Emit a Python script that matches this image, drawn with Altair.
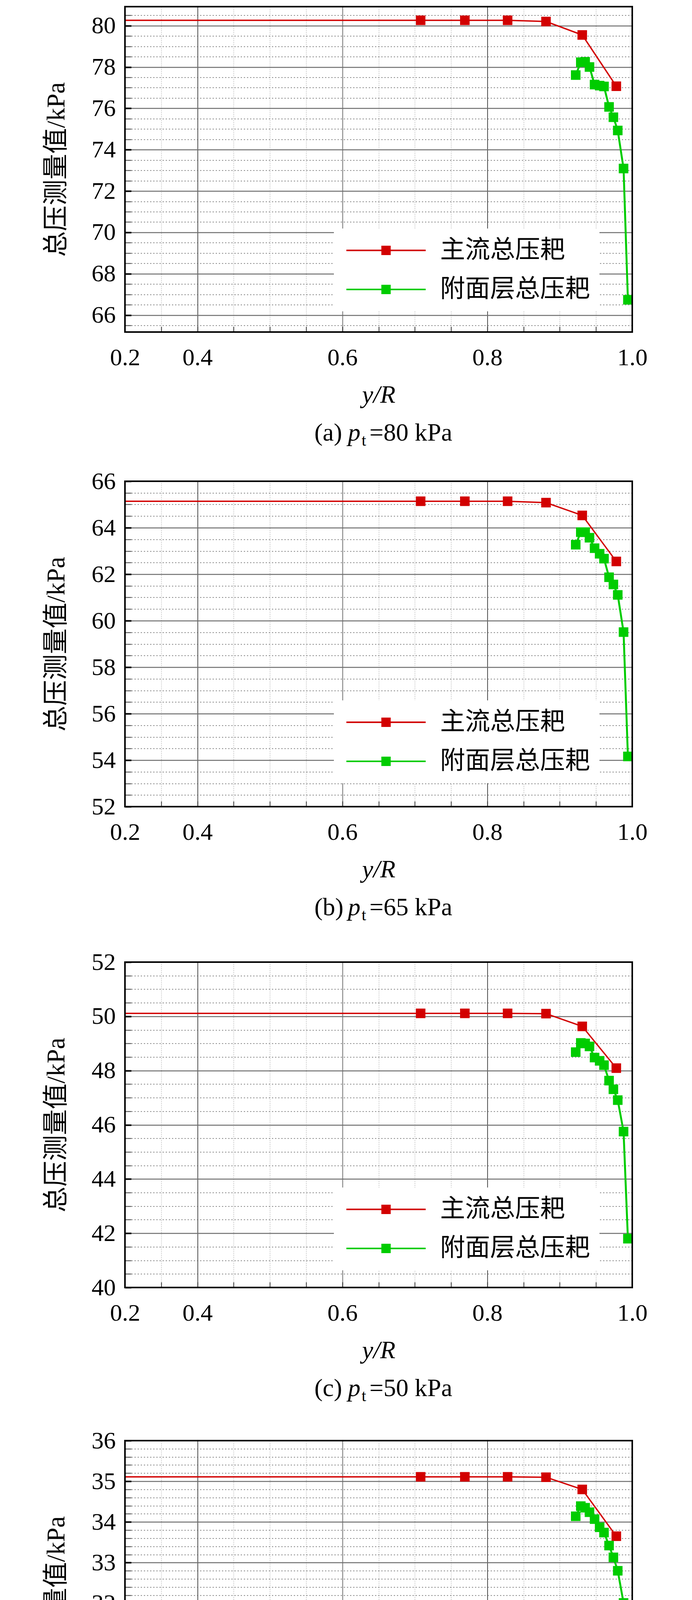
import math
import altair as alt
import pandas as pd

# ---------------- data ----------------
series_names = ["主流总压耙", "附面层总压耙"]
series_colors = ["#d20000", "#00cc00"]
series_widths = [3.5, 5.0]

main_x = [0.0, 0.708, 0.769, 0.828, 0.881, 0.931, 0.978]
bl_x = [0.922, 0.929, 0.935, 0.941, 0.948, 0.955, 0.961, 0.968, 0.974, 0.980, 0.988, 0.994]

main_a = [80.26, 80.26, 80.26, 80.26, 80.20, 79.55, 77.07]
bl_a = [77.61, 78.23, 78.25, 78.00, 77.15, 77.10, 77.06, 76.07, 75.57, 74.93, 73.09, 66.74]
main_b = [65.14, 65.14, 65.14, 65.14, 65.08, 64.53, 62.55]
bl_b = [63.27, 63.81, 63.81, 63.57, 63.12, 62.88, 62.67, 61.87, 61.56, 61.11, 59.51, 54.16]
main_c = [50.11, 50.11, 50.11, 50.11, 50.10, 49.63, 48.09]
bl_c = [48.68, 49.02, 49.00, 48.89, 48.48, 48.36, 48.20, 47.63, 47.31, 46.91, 45.75, 41.80]
main_d = [35.11, 35.11, 35.11, 35.11, 35.10, 34.80, 33.65]
bl_d = [34.14, 34.39, 34.35, 34.24, 34.07, 33.87, 33.74, 33.42, 33.13, 32.80, 32.01, 29.24]

panel_letters = ["a", "b", "c", "d"]
panel_pt = [80, 65, 50, 35]
main_series = [main_a, main_b, main_c, main_d]
bl_series = [bl_a, bl_b, bl_c, bl_d]
y_domains = [[65.18, 80.92], [52, 66], [40, 52], [28, 36]]
y_major_step = [2, 2, 2, 1]
y_minor_step = [0.5, 0.5, 0.5, 0.2]

x_domain = [0.3, 1.0]
x_minor_step = 0.05
x_tick_values = [0.3, 0.4, 0.6, 0.8, 1.0]
x_tick_labels = ["0.2", "0.4", "0.6", "0.8", "1.0"]

y_title = "总压测量值/kPa"
x_title = "y/R"

# ---------------- layout ----------------
W, H = 1299, 833
legend_y = [568, 561, 577, 588]
top_ext = [2, 50, 50, 50]
bottom_ext = [1164.4, 1180.6, 1174.7, 1110]

SERIF = "Liberation Serif"
MIXED = "Liberation Serif, Noto Sans CJK SC"
# legend symbol: a line with a square in its middle (units of 32 px)
SYMBOL_PATH = "M-3.172,-0.0625H3.172V0.0625H-3.172Z M-0.375,-0.375H0.375V0.375H-0.375Z"


def frange(lo, hi, step):
    start = math.ceil(lo / step - 1e-9)
    out = []
    k = start
    while k * step <= hi + 1e-9:
        out.append(round(k * step, 3))
        k += 1
    return out


x_all = frange(x_domain[0], x_domain[1], x_minor_step)
x_label_expr = ""
for v, lab in zip(x_tick_values, x_tick_labels):
    x_label_expr += f"abs(datum.value-{v})<0.001?'{lab}':"
x_label_expr += "''"
x_major_test = " || ".join(f"abs(datum.value-{v})<0.001" for v in x_tick_values)
x_mid_test = "abs(datum.value-0.6)<0.001"

x_axis = alt.Axis(
    values=x_all,
    tickCount=500,
    labelExpr=x_label_expr,
    labelPadding=35,
    labelFlush=False,
    labelOverlap=False,
    title=x_title,
    titleFontStyle="italic",
    titleFont=SERIF,
    titleFontSize=64,
    titleBaseline="alphabetic",
    titleY=180,
    grid=True,
    ticks=False,
    gridColor={"condition": [{"test": x_mid_test, "value": "#8c8c8c"},
                             {"test": x_major_test, "value": "#111111"}],
               "value": "#a8a8a8"},
    gridWidth={"condition": [{"test": x_mid_test, "value": 2.5},
                             {"test": x_major_test, "value": 1.5}],
               "value": 1.5},
    gridDash={"condition": {"test": x_major_test, "value": []}, "value": [2, 3]},
)

# inner tick marks along the bottom edge
x_tick_axis = alt.Axis(
    orient="bottom", values=x_all, tickCount=500, offset=-14, ticks=True, tickSize=14,
    tickColor="#333333", tickWidth=2, labels=False, grid=False, domain=False, title=None,
)


def make_panel(i):
    lo, hi = y_domains[i]
    step = y_major_step[i]
    y_all = frange(lo, hi, y_minor_step[i])
    y_test = f"abs(datum.value/{step} - round(datum.value/{step})) < 0.001"
    y_axis = alt.Axis(
        orient="left",
        values=y_all,
        tickCount=500,
        labelExpr=f"({y_test}) ? format(datum.value, 'd') : ''",
        labelPadding=24,
        labelFlush=False,
        labelOverlap=False,
        title=y_title,
        titleFont=MIXED,
        titleFontSize=66,
        titleX=-176,
        titleY=H / 2,
        titleBaseline="middle",
        grid=True,
        ticks=False,
        gridColor={"condition": {"test": y_test, "value": "#6e6e6e"}, "value": "#555555"},
        gridWidth={"condition": {"test": y_test, "value": 2.5}, "value": 1.3},
        gridDash={"condition": {"test": y_test, "value": []}, "value": [3, 5]},
    )
    y_tick_axis = alt.Axis(
        orient="left", values=y_all, tickCount=500, offset=-16, ticks=True, tickSize=16,
        tickColor={"condition": {"test": y_test, "value": "#000000"}, "value": "#444444"},
        tickWidth={"condition": {"test": y_test, "value": 4}, "value": 2},
        labels=False, grid=False, domain=False, title=None,
    )

    df_main = pd.DataFrame({"x": main_x, "y": main_series[i], "s": series_names[0]})
    df_bl = pd.DataFrame({"x": bl_x, "y": bl_series[i], "s": series_names[1]})
    df_pts = pd.concat([df_main[df_main["x"] >= x_domain[0]], df_bl], ignore_index=True)

    xs = alt.Scale(domain=x_domain, nice=False, zero=False)
    ys = alt.Scale(domain=[lo, hi], nice=False, zero=False)

    tick_layer = alt.Chart(df_pts).mark_point(opacity=0).encode(
        x=alt.X("x:Q", scale=xs, axis=x_tick_axis),
        y=alt.Y("y:Q", scale=ys, axis=y_tick_axis),
    )
    line_main = alt.Chart(df_main).mark_line(
        clip=True, color=series_colors[0], strokeWidth=series_widths[0]
    ).encode(
        x=alt.X("x:Q", scale=xs, axis=x_axis),
        y=alt.Y("y:Q", scale=ys, axis=y_axis),
    )
    line_bl = alt.Chart(df_bl).mark_line(
        clip=True, color=series_colors[1], strokeWidth=series_widths[1]
    ).encode(
        x=alt.X("x:Q", scale=xs, axis=None),
        y=alt.Y("y:Q", scale=ys, axis=None),
    )

    legend = alt.Legend(
        orient="none", legendX=535, legendY=legend_y[i], title=None,
        symbolType=SYMBOL_PATH, symbolSize=4096, symbolStrokeWidth=0,
        rowPadding=36, padding=24, fillColor="white",
        labelFont="Noto Sans CJK SC", labelFontSize=64, labelLimit=2000,
        labelOffset=106.5, symbolOffset=77.5, labelColor="black", direction="vertical",
        symbolOpacity=1,
    )
    points = alt.Chart(df_pts).mark_point(filled=True, shape="square", size=600, opacity=1).encode(
        x=alt.X("x:Q", scale=xs, axis=None),
        y=alt.Y("y:Q", scale=ys, axis=None),
        fill=alt.Fill("s:N", scale=alt.Scale(domain=series_names, range=series_colors), legend=legend),
    )

    one = pd.DataFrame({"k": [0]})
    frame = alt.Chart(one).mark_rect(filled=False, stroke="black", strokeWidth=4).encode(
        x=alt.value(0), x2=alt.value(W), y=alt.value(0), y2=alt.value(H))
    bounds = alt.Chart(one).mark_rule(strokeOpacity=0).encode(
        x=alt.value(-312), y=alt.value(-top_ext[i]), y2=alt.value(bottom_ext[i]))

    cap_df = pd.DataFrame({"a": [f"({panel_letters[i]})"], "p": ["p"], "t": ["t"],
                           "r": [f"={panel_pt[i]} kPa"]})
    cy = H + 278
    cap1 = alt.Chart(cap_df).mark_text(font=SERIF, fontSize=64, align="left", baseline="alphabetic", color="black").encode(
        text="a:N", x=alt.value(485), y=alt.value(cy))
    cap2 = alt.Chart(cap_df).mark_text(font=SERIF, fontSize=64, fontStyle="italic", align="left", baseline="alphabetic", color="black").encode(
        text="p:N", x=alt.value(571), y=alt.value(cy))
    cap3 = alt.Chart(cap_df).mark_text(font=SERIF, fontSize=42, align="left", baseline="alphabetic", color="black").encode(
        text="t:N", x=alt.value(606), y=alt.value(cy + 13))
    cap4 = alt.Chart(cap_df).mark_text(font=SERIF, fontSize=64, align="left", baseline="alphabetic", color="black").encode(
        text="r:N", x=alt.value(626), y=alt.value(cy))

    return alt.layer(
        line_main, tick_layer, line_bl, points, frame, bounds, cap1, cap2, cap3, cap4
    ).resolve_axis(x="independent", y="independent").properties(width=W, height=H)


panels = [make_panel(i) for i in range(4)]

chart = alt.vconcat(*panels, spacing=0).resolve_scale(
    fill="independent"
).resolve_legend(fill="independent").properties(padding=0).configure_view(
    stroke=None
).configure_axis(
    labelFont=SERIF, labelFontSize=62, labelColor="black",
    titleColor="black", titleFontWeight="normal",
    domain=False,
)

chart.save("out.html", embed_options={"renderer": "svg", "actions": False})
